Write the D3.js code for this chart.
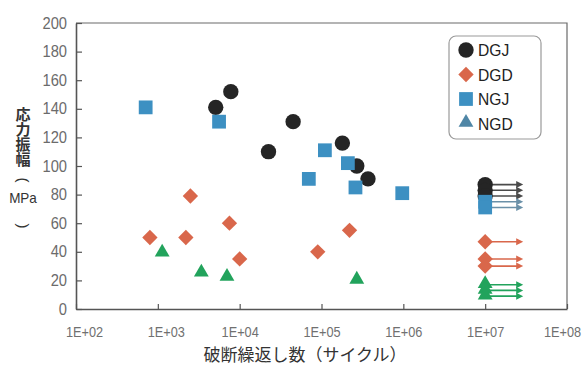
<!DOCTYPE html>
<html>
<head>
<meta charset="utf-8">
<script src="https://cdn.jsdelivr.net/npm/d3@7"></script>
<style>
  html, body { margin: 0; padding: 0; background: #ffffff; }
  svg { display: block; }
</style>
</head>
<body>
<svg id="chart" width="582" height="369"></svg>
<script>
// ---- data (cycles to failure N, stress amplitude MPa) ----
const dgjPoints = [[5.1e3, 141], [7.8e3, 152], [2.25e4, 110], [4.5e4, 131], [1.8e5, 116], [2.7e5, 100], [3.7e5, 91]];
const dgdPoints = [[8.0e2, 50], [2.2e3, 50], [2.5e3, 79], [7.5e3, 60], [1.0e4, 35], [9.0e4, 40], [2.2e5, 55]];
const ngjPoints = [[7.1e2, 141], [5.6e3, 131], [7.0e4, 91], [1.1e5, 111], [2.1e5, 102], [2.6e5, 85], [9.7e5, 81]];
const ngdPoints = [[1.13e3, 39], [3.4e3, 25], [7.0e3, 22], [2.7e5, 20]];
// run-out specimens (not failed) at 1E+07 cycles
const runoutN = 1e7;
const dgjRunout = [87, 83, 79];
const ngjRunout = [75, 71];
const dgdRunout = [47, 35, 30];
const ngdRunout = [17, 13, 9];

const xTicks = [1e2, 1e3, 1e4, 1e5, 1e6, 1e7, 1e8];
const xTickLabels = ["1E+02", "1E+03", "1E+04", "1E+05", "1E+06", "1E+07", "1E+08"];
const yTicks = [0, 20, 40, 60, 80, 100, 120, 140, 160, 180, 200];
const seriesNames = ["DGJ", "DGD", "NGJ", "NGD"];
const xTitle = "破断繰返し数（サイクル）";
const yTitleMain = "応力振幅";
const yTitleUnit = ["(", "MPa", ")"];

// ---- styles ----
const colors = { DGJ: "#252525", DGD: "#d9674b", NGJ: "#3d90c2", NGD: "#22a35c" };
const arrowColors = { DGJ: "#4a4a4a", DGD: "#d9674b", NGJ: "#6a90a8", NGD: "#22a35c" };
const tickFont = "'Liberation Sans', Arial, sans-serif";
const cjkFont = "'Noto Sans CJK JP', sans-serif";

const svg = d3.select("#chart");
const margin = { left: 76, right: 567, top: 23, bottom: 309 };

const x = d3.scaleLog().domain([1e2, 1e8]).range([margin.left, margin.right]);
const y = d3.scaleLinear().domain([0, 200]).range([margin.bottom, margin.top]);

// frame (top & right)
svg.append("path")
  .attr("d", `M${margin.left},${margin.top}H${margin.right}V${margin.bottom}`)
  .attr("fill", "none").attr("stroke", "#6a6a6a").attr("stroke-width", 1.2);

// y axis
const yAxis = svg.append("g")
  .attr("transform", `translate(${margin.left},0)`)
  .call(d3.axisLeft(y).tickValues(yTicks).tickSizeInner(-6).tickSizeOuter(0).tickPadding(9));
yAxis.select(".domain").attr("stroke", "#555").attr("stroke-width", 1.6);
yAxis.selectAll(".tick line").attr("stroke", "#555").attr("stroke-width", 1.2);
yAxis.selectAll(".tick text")
  .attr("font-family", tickFont).attr("font-size", 16).attr("fill", "#6b6b6b")
  .attr("transform", "translate(-9,0) scale(0.92,1) translate(9,0)");

// x axis
const xAxis = svg.append("g")
  .attr("transform", `translate(0,${margin.bottom})`)
  .call(d3.axisBottom(x).tickValues(xTicks)
    .tickFormat((d, i) => xTickLabels[i])
    .tickSizeInner(-5).tickSizeOuter(0).tickPadding(17));
xAxis.select(".domain").attr("stroke", "#555").attr("stroke-width", 1.6);
xAxis.selectAll(".tick line").attr("stroke", "#555").attr("stroke-width", 1.2);
xAxis.selectAll(".tick text")
  .attr("font-family", tickFont).attr("font-size", 15).attr("fill", "#707070")
  .attr("transform", (d, i) => `translate(${i < 2 ? 8 : (i === 6 ? -5 : 0)},0) scale(0.85,1)`);

// axis titles
svg.append("text")
  .attr("x", 305).attr("y", 361)
  .attr("text-anchor", "middle")
  .attr("font-family", cjkFont)
  .attr("font-size", 17).attr("fill", "#333")
  .text(xTitle);

const yTitle = svg.append("g").attr("font-family", cjkFont).attr("fill", "#333");
yTitle.append("text")
  .attr("x", 23).attr("y", 107)
  .style("writing-mode", "vertical-rl")
  .attr("font-size", 15).attr("font-weight", "bold")
  .text(yTitleMain);
yTitle.append("text").attr("text-anchor", "middle").attr("dy", "0.36em")
  .attr("font-family", tickFont).attr("font-size", 15)
  .attr("transform", "translate(23,180) rotate(90)").text(yTitleUnit[0]);
yTitle.append("text").attr("x", 23).attr("y", 198).attr("dy", "0.36em").attr("text-anchor", "middle")
  .attr("font-family", tickFont).attr("font-size", 15)
  .attr("transform", "translate(23,0) scale(0.9,1) translate(-23,0)").text(yTitleUnit[1]);
yTitle.append("text").attr("text-anchor", "middle").attr("dy", "0.36em")
  .attr("font-family", tickFont).attr("font-size", 15)
  .attr("transform", "translate(23,226) rotate(90)").text(yTitleUnit[2]);

// marker shapes
const shapes = {
  DGJ: d3.symbol().type(d3.symbolCircle).size(185),
  DGD: d3.symbol().type(d3.symbolDiamond2).size(150),
  NGJ: d3.symbol().type(d3.symbolSquare).size(190),
  NGD: d3.symbol().type(d3.symbolTriangle).size(95)
};

// run-out arrows
const runouts = { DGJ: dgjRunout, NGJ: ngjRunout, DGD: dgdRunout, NGD: ngdRunout };
const arrows = svg.append("g");
Object.keys(runouts).forEach(k => {
  runouts[k].forEach(v => {
    const x0 = x(runoutN), yy = y(v);
    arrows.append("line")
      .attr("x1", x0).attr("x2", x0 + 34).attr("y1", yy).attr("y2", yy)
      .attr("stroke", arrowColors[k]).attr("stroke-width", 1.6);
    arrows.append("path")
      .attr("d", `M${x0 + 38},${yy}L${x0 + 31},${yy - 3.5}L${x0 + 31},${yy + 3.5}Z`)
      .attr("fill", arrowColors[k]);
  });
});

// points
const seriesData = {
  DGJ: dgjPoints.concat(dgjRunout.map(v => [runoutN, v])),
  DGD: dgdPoints.concat(dgdRunout.map(v => [runoutN, v])),
  NGJ: ngjPoints.concat(ngjRunout.map(v => [runoutN, v])),
  NGD: ngdPoints.concat(ngdRunout.map(v => [runoutN, v]))
};
["DGJ", "DGD", "NGJ", "NGD"].forEach(k => {
  svg.append("g").selectAll("path")
    .data(seriesData[k]).join("path")
    .attr("transform", d => `translate(${x(d[0])},${y(d[1]) + (k === "NGD" ? -1 : 0)})`)
    .attr("d", shapes[k]())
    .attr("fill", colors[k]);
});

// legend
const lg = svg.append("g");
lg.append("rect").attr("x", 449).attr("y", 36).attr("width", 92).attr("height", 103)
  .attr("rx", 7).attr("fill", "#fff").attr("stroke", "#9a9a9a").attr("stroke-width", 1.2);
const legendColors = { DGJ: "#252525", DGD: "#d9674b", NGJ: "#3d90c2", NGD: "#4f86a6" };
seriesNames.forEach((k, i) => {
  const yy = 50 + i * 24.5;
  lg.append("path").attr("transform", `translate(466,${yy + (k === "NGD" ? -1 : 0)})`)
    .attr("d", shapes[k]()).attr("fill", legendColors[k]);
  lg.append("text").attr("x", 478).attr("y", yy).attr("dy", "0.36em")
    .attr("font-family", tickFont).attr("font-size", 17)
    .attr("transform", "translate(478,0) scale(0.92,1) translate(-478,0)")
    .attr("fill", "#222").text(k);
});
</script>
</body>
</html>
